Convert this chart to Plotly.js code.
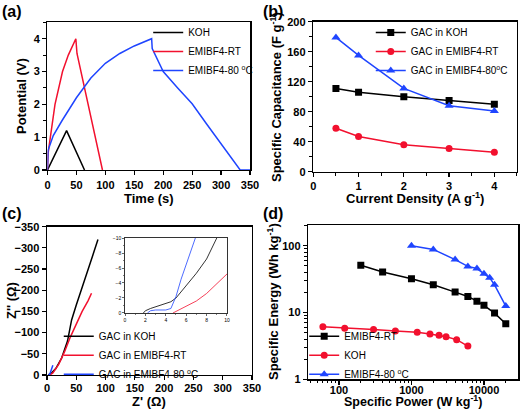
<!DOCTYPE html>
<html><head><meta charset="utf-8">
<script src="https://cdn.plot.ly/plotly-3.0.1.min.js"></script>
<style>html,body{margin:0;padding:0;background:#fff}#chart{width:520px;height:410px}</style>
</head><body><div id="chart"></div><script>
// ---- (a) galvanostatic charge/discharge ----
const timeKOH = [0, 33, 64];
const potKOH = [0, 1.2, 0];
const timeRT = [0, 1, 5, 13, 26, 36, 49, 51, 95];
const potRT = [0, 0.5, 1.0, 2.0, 3.0, 3.5, 4.0, 3.55, 0];
const time80 = [0, 1, 10, 25, 50, 75, 100, 125, 150, 175, 180, 181, 190, 200, 225, 250, 275, 300, 333, 350];
const pot80 = [0, 0.6, 1.05, 1.5, 2.2, 2.8, 3.25, 3.55, 3.78, 3.97, 4.0, 3.7, 3.38, 3.0, 2.5, 2.02, 1.4, 0.8, 0, 0];
const namesA = ['KOH', 'EMIBF4-RT', 'EMIBF4-80 <sup>o</sup>C'];

// ---- (b) specific capacitance ----
const currentDensity = [0.5, 1, 2, 3, 4];
const capKOH = [111, 106, 100, 95, 90];
const capRT = [58, 47, 36, 31, 26];
const cap80 = [179, 155, 111, 88, 81];
const namesB = ['GAC in KOH', 'GAC in EMIBF4-RT', 'GAC in EMIBF4-80<sup>o</sup>C'];

// ---- (c) Nyquist ----
const zReKOH = [2, 8, 15, 25, 35, 42, 50, 60, 70, 80, 87];
const zImKOH = [0, -5, -15, -40, -80, -130, -165, -205, -245, -290, -320];
const zReRT = [5, 10, 20, 30, 40, 50, 60, 70, 76];
const zImRT = [0, -5, -25, -55, -90, -120, -150, -175, -193];
const zRe80 = [2, 4, 5, 7, 10];
const zIm80 = [0, -0.5, -3, -12, -23];
const namesC = ['GAC in KOH', 'GAC in EMIBF4-RT', 'GAC in EMIBF4-80 <sup>o</sup>C'];
// inset (zoom of high-frequency region)
const inReKOH = [1.8, 2, 2.5, 3, 4, 4.5, 5, 5.5, 6, 7, 8, 9];
const inImKOH = [0, -0.3, -0.6, -0.8, -1.2, -1.5, -2, -2.8, -3.7, -5.3, -7.2, -10];
const inReRT = [4.7, 5, 6, 7, 8, 9, 10];
const inImRT = [0, -0.2, -0.9, -1.6, -2.6, -3.9, -5.2];
const inRe80 = [2.2, 2.5, 3, 4, 4.5, 5, 5.5, 6, 6.5, 6.9];
const inIm80 = [0, -0.3, -0.4, -0.4, -0.6, -2.2, -4.5, -6.5, -8.5, -10];

// ---- (d) Ragone ----
const powerRT = [200, 400, 1000, 2000, 4000, 6000, 8000, 10000, 14000, 20000];
const energyRT = [51, 40.5, 32, 26, 20.2, 17.4, 14.8, 12.8, 9.8, 6.8];
const powerKOH = [60, 120, 300, 600, 1200, 1800, 2400, 3000, 4200, 6000];
const energyKOH = [6.1, 5.8, 5.55, 5.3, 5.05, 4.77, 4.55, 4.35, 3.92, 3.14];
const power80 = [1000, 2000, 4000, 6000, 8000, 10000, 12000, 14000, 20000];
const energy80 = [100, 88, 62, 49, 45.5, 38, 33, 26, 12.5];
const namesD = ['EMIBF4-RT', 'KOH', 'EMIBF4-80 <sup>o</sup>C'];

// axis titles
const titleA = ['Time (s)', 'Potential (V)'];
const titleB = ['Current Density (A g<sup>-1</sup>)', 'Specific Capacitance (F g<sup>-1</sup>)'];
const titleC = ["Z' (Ω)", "Z'' (Ω)"];
const titleD = ['Specific Power (W kg<sup>-1</sup>)', 'Specific Energy (Wh kg<sup>-1</sup>)'];

const BLACK = '#000000', RED = '#f2102e', BLUE = '#1f45ff';
const FONT = 'Liberation Sans, Arial, sans-serif';

function ln(x, y, color, name, xa, ya, legend, extra) {
  return Object.assign({
    x: x, y: y, type: 'scatter', mode: 'lines', name: name,
    line: {color: color, width: 1.5}, xaxis: xa, yaxis: ya, legend: legend,
    showlegend: !!name
  }, extra || {});
}
function mk(sym, color, size) {
  return {mode: 'lines+markers', marker: {symbol: sym, color: color, size: size}};
}

const traces = [
  ln(timeKOH, potKOH, BLACK, namesA[0], 'x', 'y', 'legend'),
  ln(timeRT, potRT, RED, namesA[1], 'x', 'y', 'legend'),
  ln(time80, pot80, BLUE, namesA[2], 'x', 'y', 'legend'),

  ln(currentDensity, capKOH, BLACK, namesB[0], 'x2', 'y2', 'legend2', mk('square', BLACK, 7)),
  ln(currentDensity, capRT, RED, namesB[1], 'x2', 'y2', 'legend2', mk('circle', RED, 7)),
  ln(currentDensity, cap80, BLUE, namesB[2], 'x2', 'y2', 'legend2', mk('triangle-up', BLUE, 8)),

  ln(zReKOH, zImKOH, BLACK, namesC[0], 'x3', 'y3', 'legend3'),
  ln(zReRT, zImRT, RED, namesC[1], 'x3', 'y3', 'legend3'),
  ln(zRe80, zIm80, BLUE, namesC[2], 'x3', 'y3', 'legend3'),
  ln(inReKOH, inImKOH, BLACK, null, 'x5', 'y5', 'legend3', {line: {color: BLACK, width: 0.8}}),
  ln(inReRT, inImRT, RED, null, 'x5', 'y5', 'legend3', {line: {color: RED, width: 0.8}}),
  ln(inRe80, inIm80, BLUE, null, 'x5', 'y5', 'legend3', {line: {color: BLUE, width: 0.8}}),

  ln(powerRT, energyRT, BLACK, namesD[0], 'x4', 'y4', 'legend4', mk('square', BLACK, 7)),
  ln(powerKOH, energyKOH, RED, namesD[1], 'x4', 'y4', 'legend4', mk('circle', RED, 7)),
  ln(power80, energy80, BLUE, namesD[2], 'x4', 'y4', 'legend4', mk('triangle-up', BLUE, 8))
];

function ax(o) {
  return Object.assign({
    showline: true, linecolor: '#000', linewidth: 1.5, mirror: true,
    ticks: 'outside', ticklen: 4, tickwidth: 1.2, tickcolor: '#000',
    showgrid: false, zeroline: false, fixedrange: true, automargin: false,
    tickfont: {family: FONT, size: 11, color: '#000', weight: 'bold'},
    minor: {ticks: 'outside', ticklen: 2.5, tickwidth: 1, tickcolor: '#000', nticks: 2}
  }, o);
}
function leg(x, y) {
  return {x: x, y: y, xanchor: 'left', yanchor: 'top', bgcolor: 'rgba(0,0,0,0)',
    font: {family: FONT, size: 10, color: '#000'}, tracegroupgap: 0};
}
const insetFont = {family: FONT, size: 5, color: '#000'};
const logMinor = {ticks: 'outside', ticklen: 2.5, tickwidth: 1, tickcolor: '#000', dtick: 'D1'};
const W = 520, H = 410;
function txt(t, px, py, angle, size) {
  return {text: t, x: px / W, y: 1 - py / H, xref: 'paper', yref: 'paper', xanchor: 'center', yanchor: 'middle',
    textangle: angle || 0, showarrow: false, font: {family: FONT, size: size || 13, color: '#000', weight: 'bold'}};
}
function lbl(t, px, py) {
  return {text: t, x: px / W, y: 1 - py / H, xref: 'paper', yref: 'paper', xanchor: 'left', yanchor: 'top',
    showarrow: false, font: {family: FONT, size: 16, color: '#000', weight: 'bold'}};
}

const layout = {
  width: W, height: H, margin: {l: 0, r: 0, t: 0, b: 0},
  paper_bgcolor: '#fff', plot_bgcolor: 'rgba(0,0,0,0)',
  font: {family: FONT, color: '#000'},
  showlegend: true,
  xaxis: ax({domain: [0.0913, 0.4808], anchor: 'y', range: [0, 350], dtick: 50}),
  yaxis: ax({domain: [0.5854, 0.9456], anchor: 'x', range: [0, 4.5], dtick: 1}),
  xaxis2: ax({domain: [0.6025, 0.9942], anchor: 'y2', range: [0, 4.5], dtick: 1}),
  yaxis2: ax({domain: [0.5812, 0.9471], anchor: 'x2', range: [0, 200], dtick: 40}),
  xaxis3: ax({domain: [0.0904, 0.4846], anchor: 'y3', range: [0, 350], dtick: 50, ticklabelstandoff: -2}),
  yaxis3: ax({domain: [0.0854, 0.4471], anchor: 'x3', range: [0, -350], dtick: 50}),
  xaxis4: ax({type: 'log', domain: [0.5929, 0.9962], anchor: 'y4', range: [1.577, 4.47], dtick: 1, tickformat: 'd', minor: logMinor, ticklabelstandoff: -4}),
  yaxis4: ax({type: 'log', domain: [0.0749, 0.4512], anchor: 'x4', range: [0, 2.31], dtick: 1, tickformat: 'd', minor: logMinor}),
  xaxis5: ax({domain: [0.2404, 0.4365], anchor: 'y5', range: [0, 10], dtick: 2, linewidth: 0.8, ticklen: 2, tickwidth: 0.6, tickfont: insetFont, minor: {ticks: 'outside', ticklen: 1, tickwidth: 0.5, nticks: 2}}),
  yaxis5: ax({domain: [0.2366, 0.4195], anchor: 'x5', range: [0, -10], dtick: 2, linewidth: 0.8, ticklen: 2, tickwidth: 0.6, tickfont: insetFont, minor: {ticks: 'outside', ticklen: 1, tickwidth: 0.5, nticks: 2}}),
  legend: leg(0.285, 0.956),
  legend2: leg(0.713, 0.956),
  legend3: leg(0.113, 0.215),
  legend4: leg(0.585, 0.215),
  annotations: [
    lbl('(a)', 0, 1), lbl('(b)', 261, 1), lbl('(c)', 0, 203), lbl('(d)', 261, 203),
    txt(titleA[0], 149, 198), txt(titleA[1], 21, 96, -90),
    txt(titleB[0], 415, 198), txt(titleB[1], 276, 97, -90),
    txt(titleC[0], 149, 401), txt(titleC[1], 11, 301, -90),
    txt(titleD[0], 413, 400.5, 0, 12.5), txt(titleD[1], 273, 302, -90)
  ]
};

Plotly.newPlot('chart', traces, layout, {staticPlot: true, displayModeBar: false});
</script></body></html>
